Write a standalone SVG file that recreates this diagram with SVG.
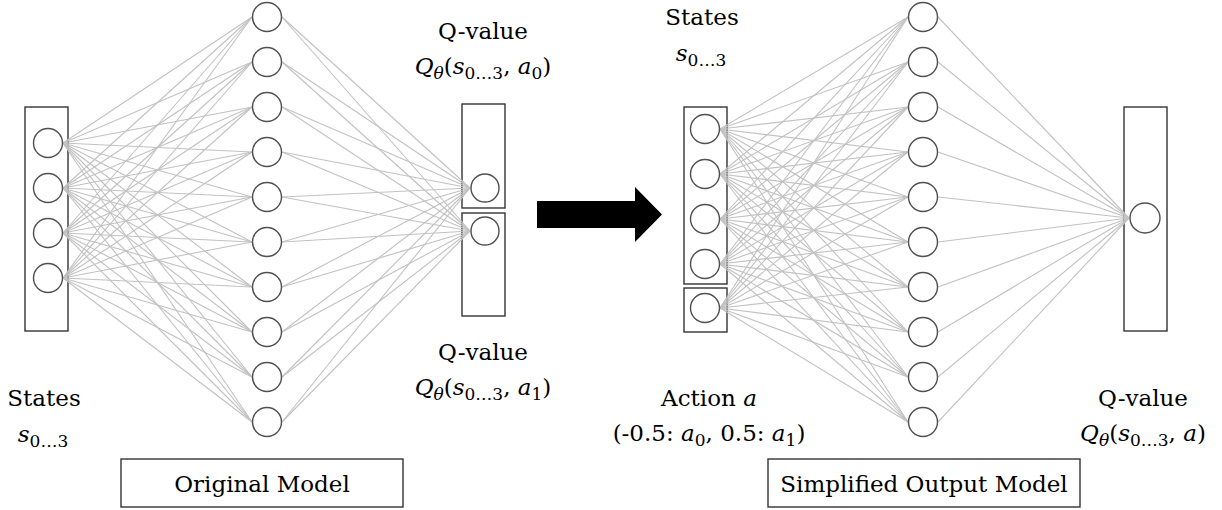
<svg xmlns="http://www.w3.org/2000/svg" width="1222" height="510" viewBox="0 0 1222 510">
<style>
.ln{stroke:#c2c2c2;stroke-width:1.1;fill:none}
.nd{fill:#fff;stroke:#505050;stroke-width:1.4}
.bx{fill:none;stroke:#333;stroke-width:1.4}
.lb{fill:#fff;stroke:#333;stroke-width:1.4}
.t{font-family:"DejaVu Serif","Liberation Serif",serif;font-size:23px;fill:#000}
.i{font-style:italic}
.s{font-size:17px}
</style>
<rect width="1222" height="510" fill="#fff"/>
<g id="frames">
<rect class="bx" x="25" y="107" width="43" height="224"/>
<rect class="bx" x="462" y="104" width="43" height="104"/>
<rect class="bx" x="462" y="213" width="43" height="103"/>
<rect class="bx" x="684" y="107" width="43" height="177"/>
<rect class="bx" x="684" y="288" width="43" height="44"/>
<rect class="bx" x="1124" y="107" width="43" height="224"/>
</g>
<g id="connectors">
<line class="ln" x1="63" y1="143" x2="252" y2="17"/><line class="ln" x1="63" y1="143" x2="252" y2="62"/><line class="ln" x1="63" y1="143" x2="252" y2="107"/><line class="ln" x1="63" y1="143" x2="252" y2="152"/><line class="ln" x1="63" y1="143" x2="252" y2="197"/><line class="ln" x1="63" y1="143" x2="252" y2="242"/><line class="ln" x1="63" y1="143" x2="252" y2="287"/><line class="ln" x1="63" y1="143" x2="252" y2="332"/><line class="ln" x1="63" y1="143" x2="252" y2="377"/><line class="ln" x1="63" y1="143" x2="252" y2="422"/>
<line class="ln" x1="63" y1="188" x2="252" y2="17"/><line class="ln" x1="63" y1="188" x2="252" y2="62"/><line class="ln" x1="63" y1="188" x2="252" y2="107"/><line class="ln" x1="63" y1="188" x2="252" y2="152"/><line class="ln" x1="63" y1="188" x2="252" y2="197"/><line class="ln" x1="63" y1="188" x2="252" y2="242"/><line class="ln" x1="63" y1="188" x2="252" y2="287"/><line class="ln" x1="63" y1="188" x2="252" y2="332"/><line class="ln" x1="63" y1="188" x2="252" y2="377"/><line class="ln" x1="63" y1="188" x2="252" y2="422"/>
<line class="ln" x1="63" y1="233" x2="252" y2="17"/><line class="ln" x1="63" y1="233" x2="252" y2="62"/><line class="ln" x1="63" y1="233" x2="252" y2="107"/><line class="ln" x1="63" y1="233" x2="252" y2="152"/><line class="ln" x1="63" y1="233" x2="252" y2="197"/><line class="ln" x1="63" y1="233" x2="252" y2="242"/><line class="ln" x1="63" y1="233" x2="252" y2="287"/><line class="ln" x1="63" y1="233" x2="252" y2="332"/><line class="ln" x1="63" y1="233" x2="252" y2="377"/><line class="ln" x1="63" y1="233" x2="252" y2="422"/>
<line class="ln" x1="63" y1="278" x2="252" y2="17"/><line class="ln" x1="63" y1="278" x2="252" y2="62"/><line class="ln" x1="63" y1="278" x2="252" y2="107"/><line class="ln" x1="63" y1="278" x2="252" y2="152"/><line class="ln" x1="63" y1="278" x2="252" y2="197"/><line class="ln" x1="63" y1="278" x2="252" y2="242"/><line class="ln" x1="63" y1="278" x2="252" y2="287"/><line class="ln" x1="63" y1="278" x2="252" y2="332"/><line class="ln" x1="63" y1="278" x2="252" y2="377"/><line class="ln" x1="63" y1="278" x2="252" y2="422"/>
<line class="ln" x1="282" y1="17" x2="470" y2="188"/><line class="ln" x1="282" y1="62" x2="470" y2="188"/><line class="ln" x1="282" y1="107" x2="470" y2="188"/><line class="ln" x1="282" y1="152" x2="470" y2="188"/><line class="ln" x1="282" y1="197" x2="470" y2="188"/><line class="ln" x1="282" y1="242" x2="470" y2="188"/><line class="ln" x1="282" y1="287" x2="470" y2="188"/><line class="ln" x1="282" y1="332" x2="470" y2="188"/><line class="ln" x1="282" y1="377" x2="470" y2="188"/><line class="ln" x1="282" y1="422" x2="470" y2="188"/>
<line class="ln" x1="282" y1="17" x2="470" y2="231"/><line class="ln" x1="282" y1="62" x2="470" y2="231"/><line class="ln" x1="282" y1="107" x2="470" y2="231"/><line class="ln" x1="282" y1="152" x2="470" y2="231"/><line class="ln" x1="282" y1="197" x2="470" y2="231"/><line class="ln" x1="282" y1="242" x2="470" y2="231"/><line class="ln" x1="282" y1="287" x2="470" y2="231"/><line class="ln" x1="282" y1="332" x2="470" y2="231"/><line class="ln" x1="282" y1="377" x2="470" y2="231"/><line class="ln" x1="282" y1="422" x2="470" y2="231"/>
<line class="ln" x1="720" y1="129" x2="908" y2="17"/><line class="ln" x1="720" y1="129" x2="908" y2="62"/><line class="ln" x1="720" y1="129" x2="908" y2="107"/><line class="ln" x1="720" y1="129" x2="908" y2="152"/><line class="ln" x1="720" y1="129" x2="908" y2="197"/><line class="ln" x1="720" y1="129" x2="908" y2="242"/><line class="ln" x1="720" y1="129" x2="908" y2="287"/><line class="ln" x1="720" y1="129" x2="908" y2="332"/><line class="ln" x1="720" y1="129" x2="908" y2="377"/><line class="ln" x1="720" y1="129" x2="908" y2="422"/>
<line class="ln" x1="720" y1="174" x2="908" y2="17"/><line class="ln" x1="720" y1="174" x2="908" y2="62"/><line class="ln" x1="720" y1="174" x2="908" y2="107"/><line class="ln" x1="720" y1="174" x2="908" y2="152"/><line class="ln" x1="720" y1="174" x2="908" y2="197"/><line class="ln" x1="720" y1="174" x2="908" y2="242"/><line class="ln" x1="720" y1="174" x2="908" y2="287"/><line class="ln" x1="720" y1="174" x2="908" y2="332"/><line class="ln" x1="720" y1="174" x2="908" y2="377"/><line class="ln" x1="720" y1="174" x2="908" y2="422"/>
<line class="ln" x1="720" y1="219" x2="908" y2="17"/><line class="ln" x1="720" y1="219" x2="908" y2="62"/><line class="ln" x1="720" y1="219" x2="908" y2="107"/><line class="ln" x1="720" y1="219" x2="908" y2="152"/><line class="ln" x1="720" y1="219" x2="908" y2="197"/><line class="ln" x1="720" y1="219" x2="908" y2="242"/><line class="ln" x1="720" y1="219" x2="908" y2="287"/><line class="ln" x1="720" y1="219" x2="908" y2="332"/><line class="ln" x1="720" y1="219" x2="908" y2="377"/><line class="ln" x1="720" y1="219" x2="908" y2="422"/>
<line class="ln" x1="720" y1="264" x2="908" y2="17"/><line class="ln" x1="720" y1="264" x2="908" y2="62"/><line class="ln" x1="720" y1="264" x2="908" y2="107"/><line class="ln" x1="720" y1="264" x2="908" y2="152"/><line class="ln" x1="720" y1="264" x2="908" y2="197"/><line class="ln" x1="720" y1="264" x2="908" y2="242"/><line class="ln" x1="720" y1="264" x2="908" y2="287"/><line class="ln" x1="720" y1="264" x2="908" y2="332"/><line class="ln" x1="720" y1="264" x2="908" y2="377"/><line class="ln" x1="720" y1="264" x2="908" y2="422"/>
<line class="ln" x1="720" y1="308" x2="908" y2="17"/><line class="ln" x1="720" y1="308" x2="908" y2="62"/><line class="ln" x1="720" y1="308" x2="908" y2="107"/><line class="ln" x1="720" y1="308" x2="908" y2="152"/><line class="ln" x1="720" y1="308" x2="908" y2="197"/><line class="ln" x1="720" y1="308" x2="908" y2="242"/><line class="ln" x1="720" y1="308" x2="908" y2="287"/><line class="ln" x1="720" y1="308" x2="908" y2="332"/><line class="ln" x1="720" y1="308" x2="908" y2="377"/><line class="ln" x1="720" y1="308" x2="908" y2="422"/>
<line class="ln" x1="938" y1="17" x2="1129" y2="218"/><line class="ln" x1="938" y1="62" x2="1129" y2="218"/><line class="ln" x1="938" y1="107" x2="1129" y2="218"/><line class="ln" x1="938" y1="152" x2="1129" y2="218"/><line class="ln" x1="938" y1="197" x2="1129" y2="218"/><line class="ln" x1="938" y1="242" x2="1129" y2="218"/><line class="ln" x1="938" y1="287" x2="1129" y2="218"/><line class="ln" x1="938" y1="332" x2="1129" y2="218"/><line class="ln" x1="938" y1="377" x2="1129" y2="218"/><line class="ln" x1="938" y1="422" x2="1129" y2="218"/>
</g>
<g id="orig-input">
<g id="oi0"><circle class="nd" cx="48" cy="143" r="14.5"/></g>
<g id="oi1"><circle class="nd" cx="48" cy="188" r="14.5"/></g>
<g id="oi2"><circle class="nd" cx="48" cy="233" r="14.5"/></g>
<g id="oi3"><circle class="nd" cx="48" cy="278" r="14.5"/></g>
</g>
<g id="orig-hidden">
<g id="oh0"><circle class="nd" cx="267" cy="17" r="14.5"/></g>
<g id="oh1"><circle class="nd" cx="267" cy="62" r="14.5"/></g>
<g id="oh2"><circle class="nd" cx="267" cy="107" r="14.5"/></g>
<g id="oh3"><circle class="nd" cx="267" cy="152" r="14.5"/></g>
<g id="oh4"><circle class="nd" cx="267" cy="197" r="14.5"/></g>
<g id="oh5"><circle class="nd" cx="267" cy="242" r="14.5"/></g>
<g id="oh6"><circle class="nd" cx="267" cy="287" r="14.5"/></g>
<g id="oh7"><circle class="nd" cx="267" cy="332" r="14.5"/></g>
<g id="oh8"><circle class="nd" cx="267" cy="377" r="14.5"/></g>
<g id="oh9"><circle class="nd" cx="267" cy="422" r="14.5"/></g>
</g>
<g id="orig-output">
<g id="oo0"><circle class="nd" cx="485" cy="188" r="14"/></g>
<g id="oo1"><circle class="nd" cx="485" cy="231" r="14"/></g>
</g>
<g id="simp-input">
<g id="si0"><circle class="nd" cx="705" cy="129" r="14.5"/></g>
<g id="si1"><circle class="nd" cx="705" cy="174" r="14.5"/></g>
<g id="si2"><circle class="nd" cx="705" cy="219" r="14.5"/></g>
<g id="si3"><circle class="nd" cx="705" cy="264" r="14.5"/></g>
<g id="si-action"><circle class="nd" cx="705" cy="308" r="14.5"/></g>
</g>
<g id="simp-hidden">
<g id="sh0"><circle class="nd" cx="923" cy="17" r="14.5"/></g>
<g id="sh1"><circle class="nd" cx="923" cy="62" r="14.5"/></g>
<g id="sh2"><circle class="nd" cx="923" cy="107" r="14.5"/></g>
<g id="sh3"><circle class="nd" cx="923" cy="152" r="14.5"/></g>
<g id="sh4"><circle class="nd" cx="923" cy="197" r="14.5"/></g>
<g id="sh5"><circle class="nd" cx="923" cy="242" r="14.5"/></g>
<g id="sh6"><circle class="nd" cx="923" cy="287" r="14.5"/></g>
<g id="sh7"><circle class="nd" cx="923" cy="332" r="14.5"/></g>
<g id="sh8"><circle class="nd" cx="923" cy="377" r="14.5"/></g>
<g id="sh9"><circle class="nd" cx="923" cy="422" r="14.5"/></g>
</g>
<g id="simp-output">
<g id="so0"><circle class="nd" cx="1145" cy="218" r="15"/></g>
</g>
<g id="transform-arrow">
<polygon points="537,201 635,201 635,187 662,214.5 635,242 635,228 537,228" fill="#000"/>
</g>
<g id="labels">
<text class="t" x="44" y="406" text-anchor="middle">States</text>
<text class="t" x="43" y="442" text-anchor="middle"><tspan class="i">s</tspan><tspan class="s" dy="5">0…3</tspan></text>
<text class="t" x="483" y="39" text-anchor="middle">Q-value</text>
<text class="t" x="483" y="74" text-anchor="middle"><tspan class="i">Q</tspan><tspan class="s i" dy="5">θ</tspan><tspan dy="-5">(</tspan><tspan class="i">s</tspan><tspan class="s" dy="5">0…3</tspan><tspan dy="-5">, </tspan><tspan class="i">a</tspan><tspan class="s" dy="5">0</tspan><tspan dy="-5">)</tspan></text>
<text class="t" x="483" y="360" text-anchor="middle">Q-value</text>
<text class="t" x="483" y="395" text-anchor="middle"><tspan class="i">Q</tspan><tspan class="s i" dy="5">θ</tspan><tspan dy="-5">(</tspan><tspan class="i">s</tspan><tspan class="s" dy="5">0…3</tspan><tspan dy="-5">, </tspan><tspan class="i">a</tspan><tspan class="s" dy="5">1</tspan><tspan dy="-5">)</tspan></text>
<text class="t" x="702" y="25" text-anchor="middle">States</text>
<text class="t" x="701" y="61" text-anchor="middle"><tspan class="i">s</tspan><tspan class="s" dy="5">0…3</tspan></text>
<text class="t" x="709" y="406" text-anchor="middle">Action <tspan class="i">a</tspan></text>
<text class="t" x="709" y="441" text-anchor="middle">(-0.5: <tspan class="i">a</tspan><tspan class="s" dy="5">0</tspan><tspan dy="-5">, 0.5: </tspan><tspan class="i">a</tspan><tspan class="s" dy="5">1</tspan><tspan dy="-5">)</tspan></text>
<text class="t" x="1143" y="406" text-anchor="middle">Q-value</text>
<text class="t" x="1143" y="441" text-anchor="middle"><tspan class="i">Q</tspan><tspan class="s i" dy="5">θ</tspan><tspan dy="-5">(</tspan><tspan class="i">s</tspan><tspan class="s" dy="5">0…3</tspan><tspan dy="-5">, </tspan><tspan class="i">a</tspan><tspan>)</tspan></text>
</g>
<g id="original-model">
<rect class="lb" x="121" y="459" width="282" height="48"/>
<text class="t" x="262" y="492" text-anchor="middle">Original Model</text>
</g>
<g id="simplified-model">
<rect class="lb" x="768" y="459" width="312" height="48"/>
<text class="t" x="924" y="492" text-anchor="middle">Simplified Output Model</text>
</g>
</svg>
